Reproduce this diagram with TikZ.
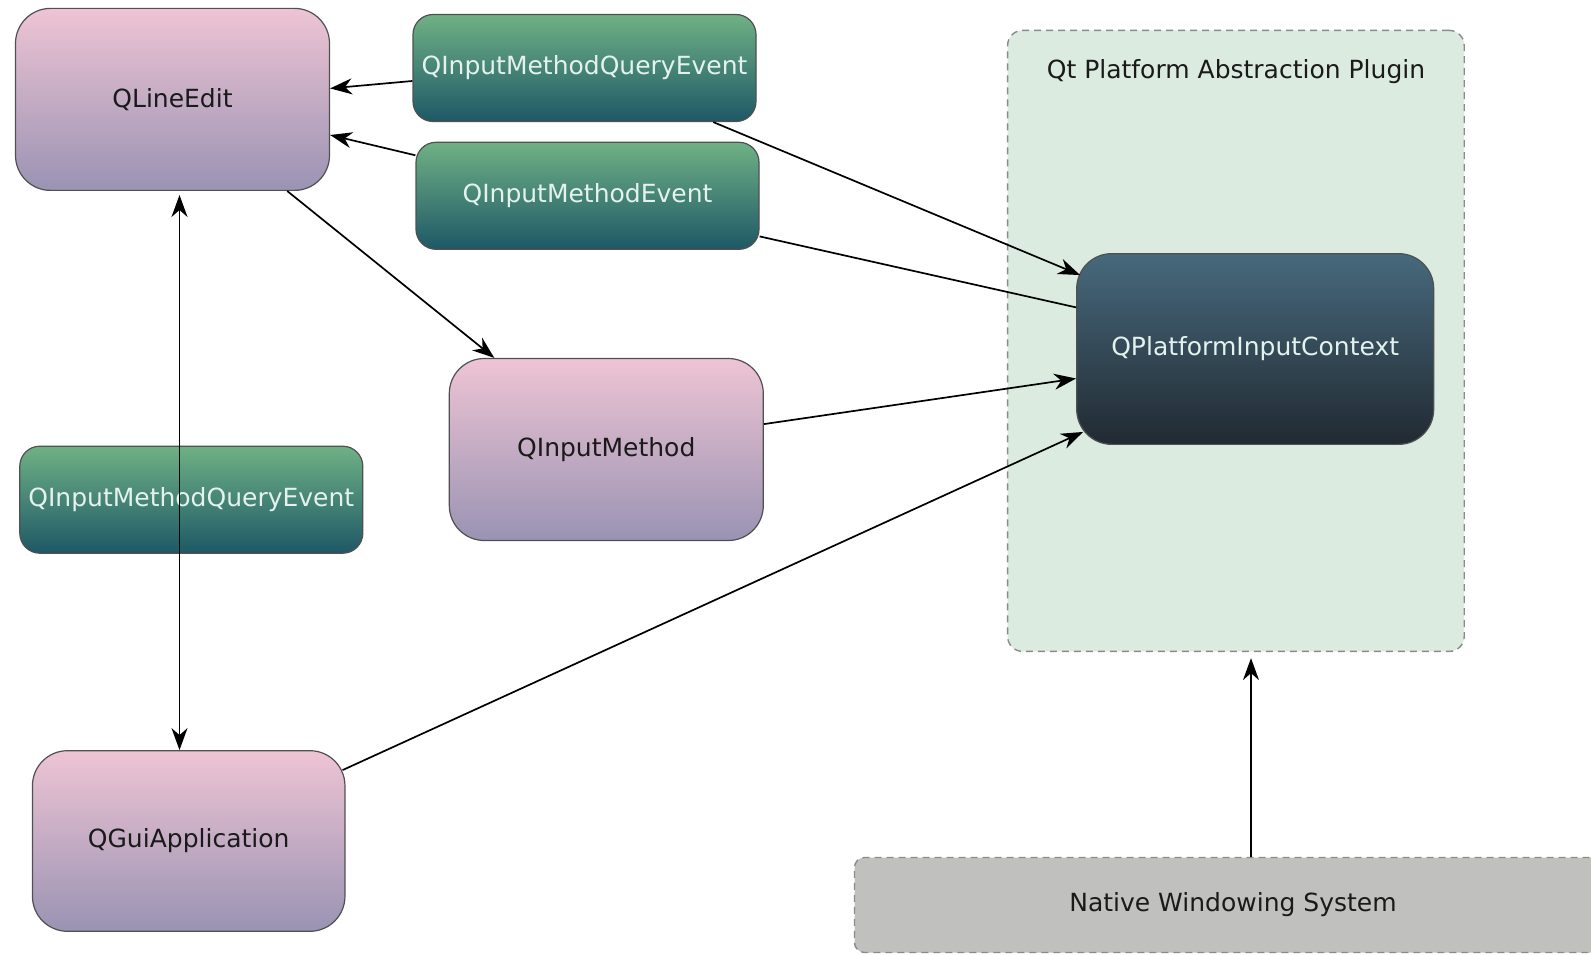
\documentclass[tikz,border=0pt]{standalone}
\usepackage{fontspec}
\setmainfont{DejaVu Sans}
\usetikzlibrary{arrows.meta,calc}
\definecolor{pinktop}{HTML}{EEC4D4}
\definecolor{pinkbot}{HTML}{9A93B3}
\definecolor{greentop}{HTML}{6FB185}
\definecolor{greenbot}{HTML}{1E5866}
\definecolor{darktop}{HTML}{47697D}
\definecolor{darkbot}{HTML}{212A31}
\definecolor{pluginfill}{HTML}{DCEBE0}
\definecolor{nativefill}{HTML}{C0C1BF}
\definecolor{boxline}{HTML}{505050}
\definecolor{dashline}{HTML}{8A8A8A}
\definecolor{lighttext}{HTML}{E4F2EE}
\definecolor{darktext}{HTML}{1A1A1A}
\tikzset{
  pinkbox/.style={draw=boxline, line width=1.2pt, rounded corners=35pt, top color=pinktop, bottom color=pinkbot, minimum width=314pt, minimum height=182pt, inner sep=0pt, text=darktext},
  greenbox/.style={draw=boxline, line width=1.2pt, rounded corners=20pt, top color=greentop, bottom color=greenbot, minimum width=343pt, minimum height=107pt, inner sep=0pt, text=lighttext},
  darkbox/.style={draw=boxline, line width=1.2pt, rounded corners=35pt, top color=darktop, bottom color=darkbot, minimum width=357pt, minimum height=190.7pt, inner sep=0pt, text=lighttext},
  pluginbox/.style={draw=dashline, line width=1.4pt, dash pattern=on 7pt off 5pt, rounded corners=15pt, fill=pluginfill, minimum width=456.6pt, minimum height=621pt, inner sep=0pt},
  nativebox/.style={draw=dashline, line width=1.4pt, dash pattern=on 7pt off 5pt, rounded corners=10pt, fill=nativefill, minimum width=757pt, minimum height=95pt, inner sep=0pt, text=darktext},
  tipstyle/.tip={Stealth[length=22pt,width=16pt,inset=7pt]},
  conn/.style={line width=1.7pt, draw=black, -tipstyle},
  plainconn/.style={line width=1.7pt, draw=black},
  biconn/.style={line width=1.7pt, draw=black, tipstyle-tipstyle}
}
\begin{document}
\begin{tikzpicture}[x=1pt,y=-1pt, every node/.style={font=\fontsize{25}{30}\selectfont}]
\useasboundingbox (0,0) rectangle (1591,955);
\clip (0,0) rectangle (1591,955);
\fill[white] (0,0) rectangle (1591,955);

% containers
\node[pluginbox] (plugin) at (1235.9,340.9) {};
\node[text=darktext] (plugtitle) at (1236,72) {Qt Platform Abstraction Plugin};
\node[nativebox] (native) at (1233,905) {Native Windowing System};

% boxes
\node[pinkbox] (qle) at (172.5,99.4) {QLineEdit};
\node[greenbox] (qimqe) at (584.5,68) {QInputMethodQueryEvent};
\node[greenbox] (qime) at (587.5,195.8) {QInputMethodEvent};
\node[pinkbox] (qim) at (606.3,449.5) {QInputMethod};
\node[greenbox] (qimqe2) at (191.3,499.7) {QInputMethodQueryEvent};
\node[pinkbox, minimum width=312.5pt, minimum height=180.6pt] (qgui) at (188.7,841) {QGuiApplication};
\node[darkbox] (qpic) at (1255.2,349) {QPlatformInputContext};

% connectors
\draw[conn] ($(qimqe.west)+(0,13)$) -- ($(qle.east)+(0,-11)$);
\draw[conn] ($(qime.west)+(0,-40.5)$) -- ($(qle.east)+(0,35.6)$);
\draw[conn] ($(qimqe.south)+(128.8,0)$) -- ($(qpic.north west)+(4,22)$);
\draw[plainconn] ($(qime.east)+(0,40.6)$) -- ($(qpic.west)+(0,-41.6)$);
\draw[conn] ($(qle.south)+(114.7,0)$) -- ($(qim.north)+(-112,0)$);
\draw[conn] ($(qim.east)+(0,-25.4)$) -- ($(qpic.west)+(0,29.5)$);
\draw[conn] ($(qgui.north east)+(-3,20)$) -- ($(qpic.south west)+(7,-13)$);
\coordinate (vtop) at ($(qle.south)+(7,4)$);
\draw[biconn] (vtop) -- (vtop |- qgui.north);
\coordinate (nwtop) at ($(native.north)+(18,0)$);
\draw[conn] (nwtop) -- ($(nwtop |- plugin.south)+(0,6)$);
\end{tikzpicture}
\end{document}
